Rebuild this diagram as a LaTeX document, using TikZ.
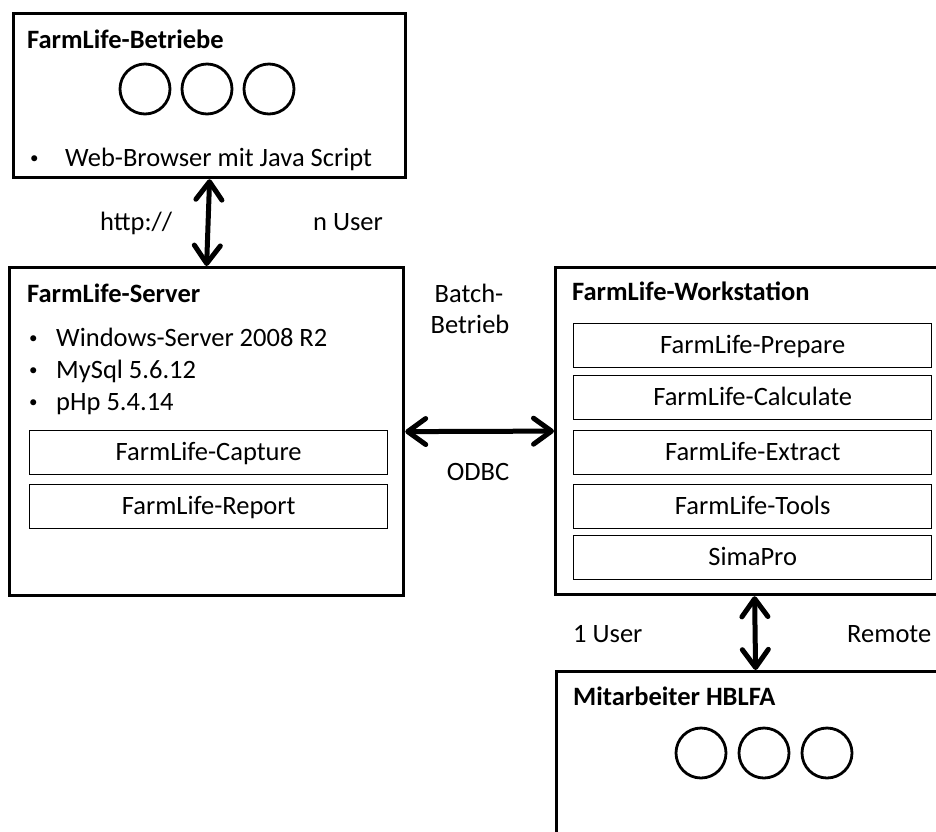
\documentclass[tikz,border=0pt]{standalone}
\usepackage{fontspec}
\setmainfont{Carlito}
\usetikzlibrary{arrows.meta}

\newcommand{\bodyfont}{\fontsize{26.5}{31}\selectfont}
\newcommand{\dotmark}{\raisebox{3pt}{\fontsize{17}{20}\selectfont •}}

\tikzset{
  bigbox/.style={draw, line width=3.2pt, inner sep=0pt, anchor=north west},
  smallbox/.style={draw, line width=1.4pt, inner sep=0pt, anchor=north west,
    minimum width=358pt, minimum height=44pt, text height=17pt, text depth=1.5pt},
  ring/.style={draw, circle, line width=2.8pt, inner sep=0pt, minimum size=50pt},
  boxtitle/.style={anchor=base west, inner sep=0pt, font=\bodyfont\bfseries},
  txt/.style={anchor=base west, inner sep=0pt},
  lbl/.style={anchor=base, inner sep=0pt},
  link/.style={line width=5pt,
    {Straight Barb[round,length=18pt,width=26pt]}-{Straight Barb[round,length=18pt,width=26pt]}}
}

\begin{document}
\begin{tikzpicture}[x=1pt, y=-1pt, font=\bodyfont]
  \pgfmathsetmacro{\RowA}{346}
  \pgfmathsetmacro{\RowSkip}{32}

  \useasboundingbox (0,0) rectangle (936,831);
  \clip (0,0) rectangle (936,831);

  % the four big boxes
  \node[bigbox, minimum width=392pt, minimum height=164pt] (betriebe) at (12,12) {};
  \node[bigbox, minimum width=394pt, minimum height=328pt] (server) at (8,266) {};
  \node[bigbox, minimum width=398pt, minimum height=327pt] (workstation) at (554,266) {};
  \node[bigbox, minimum width=398pt, minimum height=200pt] (mitarbeiter) at (555,670) {};

  % FarmLife-Betriebe
  \node[boxtitle] (betriebetitle) at (27,48) {FarmLife-Betriebe};
  \foreach \cx in {145,207,269}
    \node[ring] (b\cx) at (\cx,89) {};
  \node[txt] (bbullet) at (30,166) {\dotmark};
  \node[txt] (browser) at (65,166) {Web-Browser mit Java Script};

  % FarmLife-Server
  \node[boxtitle] (servertitle) at (27,302) {FarmLife-Server};
  \foreach \i/\item in {0/Windows-Server 2008 R2, 1/MySql 5.6.12, 2/pHp 5.4.14} {
    \pgfmathsetmacro{\yy}{\RowA+\i*\RowSkip}
    \node[txt] (sbullet\i) at (29,\yy) {\dotmark};
    \node[txt] (sitem\i) at (56,\yy) {\item};
  }
  \node[smallbox] (capture) at (29,430) {FarmLife-Capture};
  \node[smallbox] (report) at (29,484) {FarmLife-Report};

  % FarmLife-Workstation
  \node[boxtitle] (workstationtitle) at (572,300) {FarmLife-Workstation};
  \foreach \y/\name/\item in {323/prepare/FarmLife-Prepare, 375/calculate/FarmLife-Calculate,
      430/extract/FarmLife-Extract, 484/tools/FarmLife-Tools, 535/simapro/SimaPro}
    \node[smallbox] (\name) at (573,\y) {\item};

  % Mitarbeiter HBLFA
  \node[boxtitle] (mitarbeitertitle) at (573,705) {Mitarbeiter HBLFA};
  \foreach \cx in {701,764,827}
    \node[ring] (m\cx) at (\cx,753) {};

  % connections
  \draw[link] (betriebe.south) -- (server.north);
  \draw[link] (server.east) -- (workstation.west);
  \draw[link] (workstation.south) -- (mitarbeiter.north);

  \node[txt] (http) at (100,230) {http://};
  \node[txt] (nuser) at (313,230) {n User};
  \node[lbl] (batch) at (469,302) {Batch-};
  \node[lbl] (betrieb) at (470,333) {Betrieb};
  \node[lbl] (odbc) at (478,480) {ODBC};
  \node[txt] (oneuser) at (573,642) {1 User};
  \node[txt] (remote) at (847,642) {Remote};
\end{tikzpicture}
\end{document}
